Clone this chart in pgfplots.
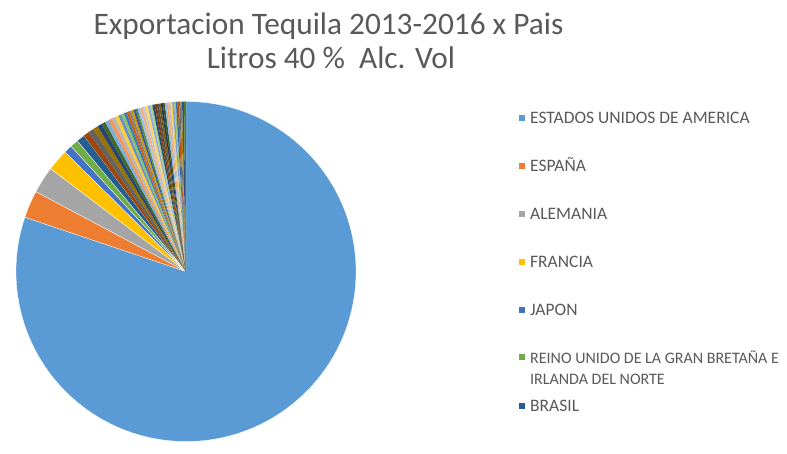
\documentclass[border=0pt]{standalone}
\usepackage{pgfplots}
\usepackage{pgfplotstable}
\pgfplotsset{compat=1.18}
\usepackage{fontspec}
\setmainfont{Carlito}
\definecolor{txt}{HTML}{595959}
% Excel 2013 pie palette (accents and variations)
\definecolor{c1}{HTML}{5B9BD5}\definecolor{c2}{HTML}{ED7D31}\definecolor{c3}{HTML}{A5A5A5}
\definecolor{c4}{HTML}{FFC000}\definecolor{c5}{HTML}{4472C4}\definecolor{c6}{HTML}{70AD47}
\definecolor{c7}{HTML}{255E91}\definecolor{c8}{HTML}{9E480E}\definecolor{c9}{HTML}{636363}
\definecolor{c10}{HTML}{997300}\definecolor{c11}{HTML}{264478}\definecolor{c12}{HTML}{43682B}
\definecolor{c13}{HTML}{7CAFDD}\definecolor{c14}{HTML}{F1975A}\definecolor{c15}{HTML}{B7B7B7}
\definecolor{c16}{HTML}{FFCD33}\definecolor{c17}{HTML}{698ED0}\definecolor{c18}{HTML}{8CC168}
\definecolor{c19}{HTML}{327DC2}\definecolor{c20}{HTML}{D26012}\definecolor{c21}{HTML}{848484}
\definecolor{c22}{HTML}{CC9A00}\definecolor{c23}{HTML}{335AA1}\definecolor{c24}{HTML}{5A8A39}
\definecolor{c25}{HTML}{9DC3E6}\definecolor{c26}{HTML}{F4B183}\definecolor{c27}{HTML}{C9C9C9}
\definecolor{c28}{HTML}{FFD966}\definecolor{c29}{HTML}{8FAADC}\definecolor{c30}{HTML}{A9D18E}
\definecolor{c31}{HTML}{1F4E79}\definecolor{c32}{HTML}{843C0C}\definecolor{c33}{HTML}{525252}
\definecolor{c34}{HTML}{7F6000}\definecolor{c35}{HTML}{203864}\definecolor{c36}{HTML}{385723}
\definecolor{c37}{HTML}{8DBBE4}\definecolor{c38}{HTML}{F3A775}\definecolor{c39}{HTML}{C0C0C0}
\definecolor{c40}{HTML}{FFD24D}\definecolor{c41}{HTML}{7C9DD6}\definecolor{c42}{HTML}{99C57A}
\definecolor{c43}{HTML}{2B6DAA}\definecolor{c44}{HTML}{B85310}\definecolor{c45}{HTML}{737373}
\definecolor{c46}{HTML}{B38600}\definecolor{c47}{HTML}{2F5089}\definecolor{c48}{HTML}{4E7A31}

% share of exported litres (percent)
\pgfplotstableread[col sep=comma]{
pais,valor
ESTADOS UNIDOS DE AMERICA,80.17
ESPAÑA,2.61
ALEMANIA,2.56
FRANCIA,2.06
JAPON,0.78
REINO UNIDO DE LA GRAN BRETAÑA E IRLANDA DEL NORTE,0.78
BRASIL,0.78
CANADA,0.56
COLOMBIA,0.53
LETONIA,0.47
AUSTRALIA,0.42
SUDAFRICA,0.39
PAISES BAJOS,0.36
ITALIA,0.36
CHILE,0.33
FEDERACION RUSA,0.33
PANAMA,0.28
REPUBLICA DE COREA,0.28
GRECIA,0.25
BELGICA,0.25
PERU,0.22
CHINA,0.22
ESTONIA,0.22
POLONIA,0.19
ARGENTINA,0.25
GUATEMALA,0.25
SUECIA,0.24
SUIZA,0.24
PORTUGAL,0.22
AUSTRIA,0.22
COSTA RICA,0.21
SINGAPUR,0.21
FILIPINAS,0.19
NUEVA ZELANDA,0.19
ECUADOR,0.19
VENEZUELA,0.19
DINAMARCA,0.18
REPUBLICA CHECA,0.18
LITUANIA,0.18
UCRANIA,0.17
BULGARIA,0.17
TAIWAN,0.17
HONG KONG,0.15
EL SALVADOR,0.15
EMIRATOS ARABES UNIDOS,0.14
ISRAEL,0.14
NORUEGA,0.19
FINLANDIA,0.18
}\datos

\def\total{0}
\pgfplotstableforeachcolumnelement{valor}\of\datos\as\v{%
  \pgfmathsetmacro\sumtmp{\total+\v}\xdef\total{\sumtmp}}

\begin{document}
\begin{tikzpicture}[x=1pt,y=1pt]
\path[use as bounding box] (0,0) rectangle (787,454);
\begin{axis}[
  at={(16pt,12.5pt)}, anchor=south west,
  scale only axis, width=340pt, height=340pt,
  xmin=-1, xmax=1, ymin=-1, ymax=1,
  hide axis, clip=false]
\pgfplotsextra{%
  \pgfplotstablegetrowsof{\datos}%
  \pgfmathtruncatemacro\N{\pgfplotsretval-1}%
  \gdef\acc{0}%
  \foreach \i in {0,...,\N}{%
    \pgfplotstablegetelem{\i}{valor}\of\datos
    \let\val\pgfplotsretval
    \pgfmathsetmacro\a{90-(\acc/\total)*360}%
    \pgfmathsetmacro\b{90-((\acc+\val)/\total)*360}%
    \pgfmathsetmacro\xa{cos(\a)}%
    \pgfmathsetmacro\ya{sin(\a)}%
    \pgfmathtruncatemacro\k{\i+1}%
    \ifnum\k<8
      \filldraw[fill=c\k, draw=white, line width=0.3pt, line join=round]
        (axis cs:0,0) -- (axis cs:\xa,\ya) arc[start angle=\a, end angle=\b, radius=170pt] -- cycle;
    \else
      \fill[c\k]
        (axis cs:0,0) -- (axis cs:\xa,\ya) arc[start angle=\a, end angle=\b, radius=170pt] -- cycle;
    \fi
    \pgfmathsetmacro\tmp{\acc+\val}%
    \xdef\acc{\tmp}%
  }%
}
\end{axis}
% title
\node[anchor=base, text=txt, font=\fontsize{31.3pt}{37pt}\selectfont] at (328.5,{454-34.3}) {Exportacion Tequila 2013-2016 x Pais};
\node[anchor=base, text=txt, font=\fontsize{31.3pt}{37pt}\selectfont] at (331,{454-68.3}) {Litros 40 \%\ \ Alc. Vol};
% legend
\begin{scope}[every node/.style={anchor=base west, text=txt, font=\fontsize{17.5pt}{21pt}\selectfont, inner sep=0pt}]
\fill[c1] (518.5,{454-120.8}) rectangle ++(6,6);
\node at (530,{454-123.8}) {ESTADOS UNIDOS DE AMERICA};
\fill[c2] (518.5,{454-168.8}) rectangle ++(6,6);
\node at (530,{454-171.8}) {ESPAÑA};
\fill[c3] (518.5,{454-216.8}) rectangle ++(6,6);
\node at (530,{454-219.8}) {ALEMANIA};
\fill[c4] (518.5,{454-264.8}) rectangle ++(6,6);
\node at (530,{454-267.8}) {FRANCIA};
\fill[c5] (518.5,{454-312.8}) rectangle ++(6,6);
\node at (530,{454-315.8}) {JAPON};
\fill[c6] (518.5,{454-359.8}) rectangle ++(6,6);
\node[font=\fontsize{16pt}{20pt}\selectfont] at (530,{454-363.3}) {REINO UNIDO DE LA GRAN BRETAÑA E};
\node[font=\fontsize{16pt}{20pt}\selectfont] at (530,{454-384.3}) {IRLANDA DEL NORTE};
\fill[c7] (518.5,{454-408.8}) rectangle ++(6,6);
\node at (530,{454-411.8}) {BRASIL};
\end{scope}
\end{tikzpicture}
\end{document}
